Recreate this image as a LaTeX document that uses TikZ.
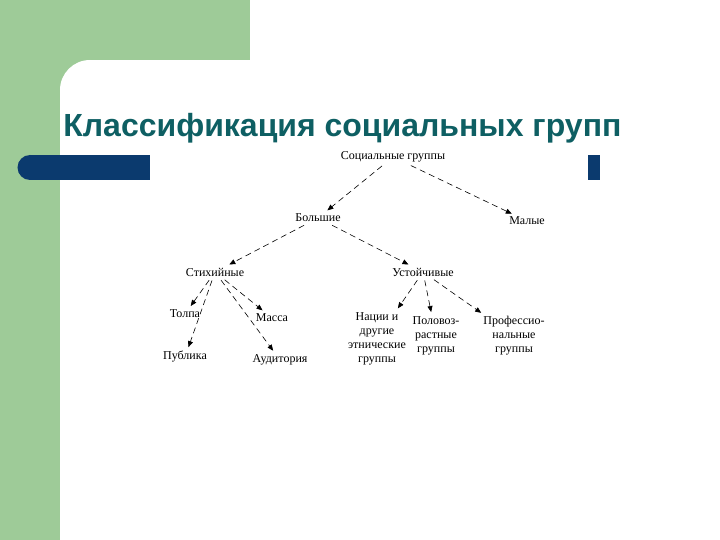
\documentclass[tikz,border=0pt]{standalone}
\usepackage{fontspec}
\setmainfont{Liberation Serif}
\newfontfamily\titlefont{Liberation Sans}
\usetikzlibrary{arrows.meta}
\definecolor{grn}{HTML}{9ECB98}
\definecolor{dblue}{HTML}{0B3A6E}
\definecolor{teal}{HTML}{0E5F63}
\begin{document}
\begin{tikzpicture}[x=0.5pt,y=-0.5pt,
  lbl/.style={inner sep=1pt,font=\fontsize{6}{7}\selectfont,align=center},
  arr/.style={densely dashed,line width=0.3pt,-{Triangle[length=3pt,width=2.5pt]},shorten <=1pt,shorten >=1pt}]
\useasboundingbox (0,0) rectangle (720,540);
\fill[white] (0,0) rectangle (720,540);
\fill[grn] (0,0) rectangle (60,540);
\fill[grn] (0,0) rectangle (250,60);
\fill[grn] (60,60) rectangle (90,90);
\fill[white] (90,90) circle[radius=30];
\fill[white] (90,60) rectangle (720,540);
\fill[white] (60,90) rectangle (720,540);
\fill[dblue] (30,167.5) circle[radius=12.5];
\fill[dblue] (30,155) rectangle (150,180);
\fill[dblue] (588,155) rectangle (600,180);
\node[anchor=west,inner sep=0pt,text=teal,font=\titlefont\bfseries\fontsize{16}{18}\selectfont] (title) at (63,128) {Классификация социальных групп};
\node[lbl] (sg) at (393,157) {Социальные группы};
\node[lbl] (big) at (318,218) {Большие};
\node[lbl] (small) at (527,221) {Малые};
\node[lbl] (st) at (215,272) {Стихийные};
\node[lbl] (us) at (423,272) {Устойчивые};
\node[lbl] (tol) at (185,314) {Толпа};
\node[lbl] (mas) at (272,318) {Масса};
\node[lbl] (pub) at (185,357) {Публика};
\node[lbl] (aud) at (280,360) {Аудитория};
\node[lbl,anchor=north] (nac) at (377,310) {Нации и\\другие\\этнические\\группы};
\node[lbl,anchor=north] (pol) at (436,314) {Половоз-\\растные\\группы};
\node[lbl,anchor=north] (prof) at (514,314) {Профессио-\\нальные\\группы};
\draw[arr] (sg) -- (big);
\draw[arr] (sg) -- (small);
\draw[arr] (big) -- (st);
\draw[arr] (big) -- (us);
\draw[arr] (st) -- (tol);
\draw[arr] (st) -- (pub);
\draw[arr] (st) -- (aud);
\draw[arr] (st) -- (mas);
\draw[arr] (us) -- (nac);
\draw[arr] (us) -- (pol);
\draw[arr] (us) -- (prof);
\end{tikzpicture}
\end{document}
